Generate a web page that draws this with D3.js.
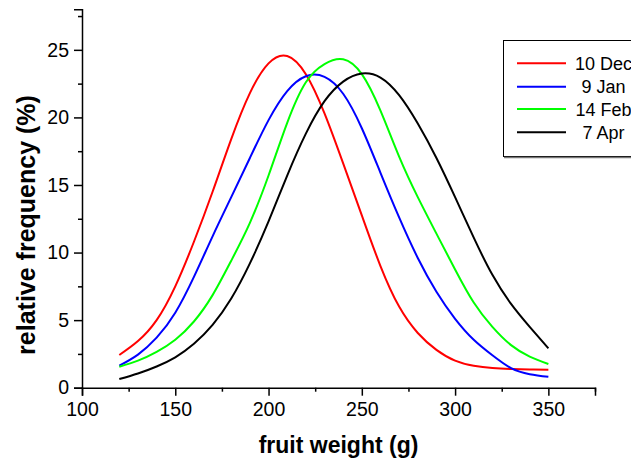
<!DOCTYPE html>
<html>
<head>
<meta charset="utf-8">
<script src="https://cdn.jsdelivr.net/npm/d3@7"></script>
<style>
  html, body { margin: 0; padding: 0; background: #fff; }
  svg { display: block; }
  text { font-family: "Liberation Sans", Arial, sans-serif; fill: #000; }
</style>
</head>
<body>
<svg id="chart" width="631" height="462"></svg>
<script>
// fruit weight (g) sampled every 10 g
const weights = [120,130,140,150,160,170,180,190,200,210,220,230,240,250,260,270,280,290,300,310,320,330,340,350];

// relative frequency (%) per sampling date
const dec10 = [2.42,3.45,5.0,7.5,10.8,14.5,18.4,21.8,24.0,24.55,23.2,20.3,16.6,12.75,9.0,6.0,4.05,2.8,2.0,1.62,1.45,1.38,1.35,1.33];
const jan9  = [1.63,2.45,3.7,5.55,8.2,11.2,14.1,17.0,19.8,21.95,23.05,23.0,21.75,19.2,15.9,12.6,9.6,7.1,5.1,3.55,2.4,1.45,1.0,0.81];
const feb14 = [1.55,2.0,2.65,3.55,4.9,6.85,9.4,12.2,15.7,19.6,22.6,23.95,24.3,23.2,20.5,17.1,14.1,11.4,8.75,6.3,4.5,3.15,2.3,1.75];
const apr7  = [0.64,1.05,1.57,2.25,3.25,4.65,6.6,9.2,12.3,15.7,18.8,21.2,22.65,23.25,22.95,21.65,19.55,17.0,14.1,11.1,8.35,6.2,4.5,2.91];

const seriesNames  = ["10 Dec", "9 Jan", "14 Feb", "7 Apr"];
const seriesColors = ["#ff0000", "#0000ff", "#00ff00", "#000000"];
const seriesValues = [dec10, jan9, feb14, apr7];

const xMajorTicks = [100,150,200,250,300,350];
const xMinorTicks = [125,175,225,275,325,375];
const yMajorTicks = [0,5,10,15,20,25];
const yMinorTicks = [2.5,7.5,12.5,17.5,22.5,27.5];

const svg = d3.select("#chart");

const x = d3.scaleLinear().domain([100, 375]).range([82, 595]);
const y = d3.scaleLinear().domain([0, 28]).range([387.7, 9.3]);

// smooth curves through the sampled frequencies
const line = d3.line()
  .x((d, i) => x(weights[i]))
  .y(d => y(d))
  .curve(d3.curveNatural);

svg.append("g")
  .selectAll("path")
  .data(seriesValues)
  .join("path")
  .attr("d", d => line(d))
  .attr("fill", "none")
  .attr("stroke", (d, i) => seriesColors[i])
  .attr("stroke-width", 2)
  .attr("stroke-linejoin", "round");

// x axis
const xAxis = svg.append("g").attr("transform", `translate(0,${y(0)})`);
xAxis.call(d3.axisBottom(x).tickValues(xMajorTicks).tickSize(8).tickPadding(6).tickFormat(d3.format("d")));
const xMinor = xAxis.append("g").call(d3.axisBottom(x).tickValues(xMinorTicks).tickSize(4).tickFormat(""));
xMinor.select(".domain").remove();

// y axis
const yAxis = svg.append("g").attr("transform", `translate(${x(100)},0)`);
yAxis.call(d3.axisLeft(y).tickValues(yMajorTicks).tickSize(8).tickPadding(5).tickFormat(d3.format("d")));
const yMinor = yAxis.append("g").call(d3.axisLeft(y).tickValues(yMinorTicks).tickSize(4).tickFormat(""));
yMinor.select(".domain").remove();

svg.selectAll(".domain").attr("stroke", "#000").attr("stroke-width", 1.5);
svg.selectAll(".tick line").attr("stroke", "#000").attr("stroke-width", 1.5);
svg.selectAll(".tick text")
  .attr("font-family", "Liberation Sans, Arial, sans-serif")
  .attr("font-size", 19.5)
  .attr("fill", "#000");

// axis titles
svg.append("text")
  .attr("x", 338.5)
  .attr("y", 453)
  .attr("text-anchor", "middle")
  .attr("font-size", 23)
  .attr("font-weight", "bold")
  .text("fruit weight (g)");

svg.append("text")
  .attr("transform", "translate(35,225) rotate(-90)")
  .attr("text-anchor", "middle")
  .attr("font-size", 25)
  .attr("font-weight", "bold")
  .text("relative frequency (%)");

// legend
const legend = svg.append("g");
legend.append("rect")
  .attr("x", 503.5).attr("y", 40.5)
  .attr("width", 140).attr("height", 116)
  .attr("fill", "#fff")
  .attr("stroke", "#000").attr("stroke-width", 1);
legend.append("line")
  .attr("x1", 504).attr("x2", 640)
  .attr("y1", 157.5).attr("y2", 157.5)
  .attr("stroke", "#777").attr("stroke-width", 1.5);

const rowY = [63.3, 86.7, 109, 132.3];
seriesNames.forEach((name, i) => {
  legend.append("line")
    .attr("x1", 517).attr("x2", 566)
    .attr("y1", rowY[i]).attr("y2", rowY[i])
    .attr("stroke", seriesColors[i]).attr("stroke-width", 2);
  legend.append("text")
    .attr("x", 603.5).attr("y", rowY[i] + 6.5)
    .attr("text-anchor", "middle")
    .attr("font-size", 18)
    .text(name);
});
</script>
</body>
</html>
